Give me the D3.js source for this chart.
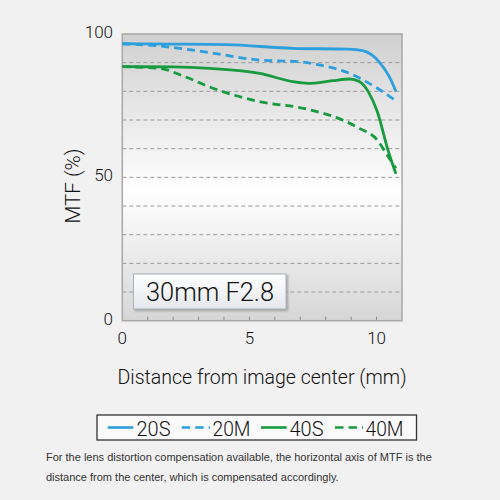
<!DOCTYPE html>
<html><head><meta charset="utf-8">
<script src="https://cdn.jsdelivr.net/npm/d3@7"></script>
<style>
html,body{margin:0;padding:0;background:#f1f1f1;}
svg{display:block;}
</style></head>
<body>
<svg id="c" width="500" height="500"></svg>
<script>
// ---- data ----
const seriesNames = ["20S", "20M", "40S", "40M"];
const x20S = [0, 2, 4.1, 6.7, 8.9, 9.45, 9.8, 10.1, 10.5, 10.76];
const y20S = [96.6, 96.5, 96.3, 95.0, 94.7, 94.2, 92.8, 90.3, 85.1, 80.0];
const x20M = [0, 1.48, 3.44, 5.4, 7.0, 7.75, 8.93, 10.03, 10.76];
const y20M = [96.6, 95.8, 93.5, 90.9, 90.3, 89.2, 86.3, 81.1, 76.7];
const x40S = [0, 2, 3.44, 5.4, 6.7, 7.3, 8.27, 8.93, 9.32, 9.71, 10.03, 10.45, 10.76];
const y40S = [88.6, 88.5, 88.0, 86.3, 83.4, 82.8, 83.7, 84.3, 83.4, 79.3, 72.9, 59.5, 51.2];
const x40M = [0, 1.48, 2.46, 3.44, 5.4, 7.1, 8.66, 9.32, 10.03, 10.4, 10.76];
const y40M = [88.6, 88.0, 85.1, 81.5, 76.4, 74.1, 70.0, 67.1, 63.0, 58.0, 53.2];
const xTicks = [0, 5, 10];
const xMinor = [1, 2, 3, 4, 5, 6, 7, 8, 9, 10];
const yTicks = [0, 50, 100];
const yGrid = [10, 20, 30, 40, 50, 60, 70, 80, 90];
const lensLabel = "30mm F2.8";
const xTitle = "Distance from image center (mm)";
const yTitle = "MTF (%)";
const note = ["For the lens distortion compensation available, the horizontal axis of MTF is the",
              "distance from the center, which is compensated accordingly."];

const blue = "#2d9fdc", green = "#189a3e";
const series = [
  {name: "20S", xs: x20S, ys: y20S, color: blue, dash: null},
  {name: "20M", xs: x20M, ys: y20M, color: blue, dash: "8,5"},
  {name: "40S", xs: x40S, ys: y40S, color: green, dash: null},
  {name: "40M", xs: x40M, ys: y40M, color: green, dash: "8,5"}
];

const svg = d3.select("#c");
const L = 122.3, R = 402, T = 34, B = 320.7;
const x = d3.scaleLinear().domain([0, 11]).range([L, R]);
const y = d3.scaleLinear().domain([0, 100]).range([B, T]);

const defs = svg.append("defs");
const g1 = defs.append("linearGradient").attr("id", "bg").attr("x1", 0).attr("x2", 0).attr("y1", 0).attr("y2", 1);
g1.append("stop").attr("offset", "0").attr("stop-color", "#d0d0d0");
g1.append("stop").attr("offset", "0.55").attr("stop-color", "#ffffff");
g1.append("stop").attr("offset", "1").attr("stop-color", "#d6d6d6");
const g2 = defs.append("linearGradient").attr("id", "lb").attr("x1", 0).attr("x2", 0).attr("y1", 0).attr("y2", 1);
g2.append("stop").attr("offset", "0").attr("stop-color", "#ffffff");
g2.append("stop").attr("offset", "1").attr("stop-color", "#e4e8ec");
const f = defs.append("filter").attr("id", "sh").attr("x", "-10%").attr("y", "-20%").attr("width", "130%").attr("height", "150%");
f.append("feDropShadow").attr("dx", 1.5).attr("dy", 1.5).attr("stdDeviation", 1.2).attr("flood-color", "#777").attr("flood-opacity", 0.6);

// plot background
svg.append("rect").attr("x", L).attr("y", T).attr("width", R - L).attr("height", B - T)
  .attr("fill", "url(#bg)");

// grid lines
svg.append("g").selectAll("line").data(yGrid).join("line")
  .attr("x1", L).attr("x2", R).attr("y1", d => y(d)).attr("y2", d => y(d))
  .attr("stroke", "#9a9a9a").attr("stroke-width", 1).attr("stroke-dasharray", "4,3");

// minor ticks on bottom
svg.append("g").selectAll("line").data(xMinor).join("line")
  .attr("x1", d => x(d)).attr("x2", d => x(d)).attr("y1", B).attr("y2", B - 4)
  .attr("stroke", "#8a8a8a").attr("stroke-width", 1);

// border
svg.append("rect").attr("x", L).attr("y", T).attr("width", R - L).attr("height", B - T)
  .attr("fill", "none").attr("stroke", "#a8a8a8").attr("stroke-width", 1.5);

const font = "Roboto, sans-serif";
const fw = 300;

// label box
const lg = svg.append("g");
lg.append("rect").attr("x", 133.5).attr("y", 274).attr("width", 152.5).attr("height", 35)
  .attr("fill", "url(#lb)").attr("stroke", "#a9b2ba").attr("stroke-width", 1).attr("filter", "url(#sh)");
lg.append("text").attr("x", 210).attr("y", 300.5).attr("text-anchor", "middle")
  .attr("font-family", font).attr("font-weight", fw).attr("font-size", 25).attr("fill", "#111")
  .attr("textLength", 128).attr("lengthAdjust", "spacingAndGlyphs").text(lensLabel);

// lines
const line = d3.line().x(d => x(d[0])).y(d => y(d[1])).curve(d3.curveMonotoneX);
svg.append("g").selectAll("path").data(series).join("path")
  .attr("d", s => line(s.xs.map((v, i) => [v, s.ys[i]])))
  .attr("fill", "none").attr("stroke", s => s.color).attr("stroke-width", 2.8)
  .attr("stroke-dasharray", s => s.dash).attr("stroke-linecap", "butt");

// axis tick labels
svg.append("g").selectAll("text").data(yTicks).join("text")
  .attr("x", 113).attr("y", d => y(d) + 4).attr("text-anchor", "end")
  .attr("font-family", font).attr("font-weight", fw).attr("font-size", 17).attr("fill", "#111").text(d => d);
svg.append("g").selectAll("text").data(xTicks).join("text")
  .attr("x", d => x(d)).attr("y", 344).attr("text-anchor", "middle")
  .attr("font-family", font).attr("font-weight", fw).attr("font-size", 17).attr("fill", "#111").text(d => d);

// titles
svg.append("text").attr("x", 262).attr("y", 384).attr("text-anchor", "middle")
  .attr("font-family", font).attr("font-weight", fw).attr("font-size", 21).attr("fill", "#111")
  .attr("textLength", 289).attr("lengthAdjust", "spacingAndGlyphs").text(xTitle);
svg.append("text").attr("transform", "translate(80,186) rotate(-90)").attr("text-anchor", "middle")
  .attr("font-family", font).attr("font-weight", fw).attr("font-size", 21).attr("fill", "#111")
  .attr("textLength", 75).attr("lengthAdjust", "spacingAndGlyphs").text(yTitle);

// legend
const leg = svg.append("g");
leg.append("rect").attr("x", 97).attr("y", 415).attr("width", 319.5).attr("height", 25)
  .attr("fill", "#fafafa").attr("stroke", "#333").attr("stroke-width", 1.3);
const legPos = [
  {lx: 107.7, lw: 25.6, tx: 136.5},
  {lx: 181.7, lw: 28.3, tx: 212.5},
  {lx: 261, lw: 25.7, tx: 289.5},
  {lx: 335, lw: 28, tx: 365.5}
];
const legTextW = [34, 38, 34, 38];
series.forEach((s, i) => {
  const p = legPos[i];
  leg.append("line").attr("x1", p.lx).attr("x2", p.lx + p.lw).attr("y1", 427.5).attr("y2", 427.5)
    .attr("stroke", s.color).attr("stroke-width", 2.6)
    .attr("stroke-dasharray", s.dash ? "8.5,5" : null);
  leg.append("text").attr("x", p.tx).attr("y", 435.5)
    .attr("font-family", font).attr("font-weight", fw).attr("font-size", 20).attr("fill", "#111")
    .attr("textLength", legTextW[i]).attr("lengthAdjust", "spacingAndGlyphs").text(seriesNames[i]);
});

// footnote
svg.append("g").selectAll("text").data(note).join("text")
  .attr("x", 46).attr("y", (d, i) => 460.5 + i * 20.5)
  .attr("font-family", "'Liberation Sans', Arial, sans-serif").attr("font-size", 11).attr("fill", "#333")
  .text(d => d);
</script>
</body></html>
